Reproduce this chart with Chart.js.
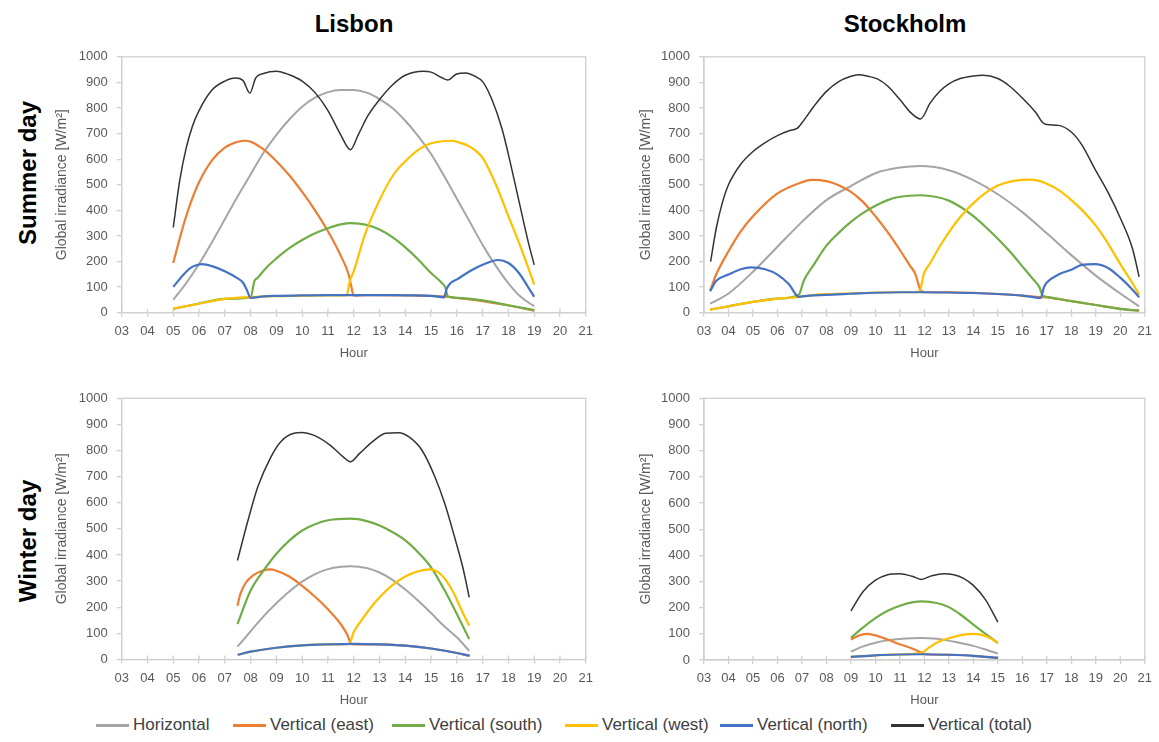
<!DOCTYPE html>
<html>
<head>
<meta charset="utf-8">
<script src="https://cdn.jsdelivr.net/npm/chart.js@4.4.1/dist/chart.umd.min.js"></script>
<style>
  html, body { margin: 0; padding: 0; background: #ffffff; }
  body { width: 1159px; height: 742px; position: relative; overflow: hidden; font-family: "Liberation Sans", Arial, sans-serif; }
  .pan { position: absolute; }
  .title { position: absolute; font-weight: bold; font-size: 24px; color: #000; transform: translate(-50%, -50%); white-space: nowrap; line-height: 1; }
  .row { position: absolute; font-weight: bold; font-size: 24px; color: #000; transform: translate(-50%, -50%) rotate(-90deg); white-space: nowrap; line-height: 1; }
  .leg { position: absolute; top: 725px; transform: translateY(-50%); display: flex; align-items: center; white-space: nowrap; font-size: 17px; color: #404040; }
  .leg i { display: inline-block; width: 33px; height: 3px; margin-right: 4px; }
</style>
</head>
<body>
<div class="title" style="left:354px;top:24px;">Lisbon</div>
<div class="title" style="left:905px;top:24px;">Stockholm</div>
<div class="row" style="left:28px;top:173px;">Summer day</div>
<div class="row" style="left:28px;top:541px;">Winter day</div>

<div class="pan" style="left:0px;top:40px;"><canvas id="lisSum" width="600" height="330"></canvas></div>
<div class="pan" style="left:590px;top:40px;"><canvas id="stoSum" width="569" height="330"></canvas></div>
<div class="pan" style="left:0px;top:380px;"><canvas id="lisWin" width="600" height="330"></canvas></div>
<div class="pan" style="left:590px;top:380px;"><canvas id="stoWin" width="569" height="330"></canvas></div>

<div id="legend"></div>

<script>
// ---------- series names / tick labels ----------
const SERIES_NAMES = ["Horizontal", "Vertical (east)", "Vertical (south)", "Vertical (west)", "Vertical (north)", "Vertical (total)"];
const HOUR_TICKS = [3,4,5,6,7,8,9,10,11,12,13,14,15,16,17,18,19,20,21];
const Y_TICKS = [0,100,200,300,400,500,600,700,800,900,1000];

// ---------- Lisbon, summer day ----------
const lisSumHorX = [5,5.5,6,6.5,7,7.5,8,8.5,9,9.5,10,10.5,11,11.5,12,12.5,13,13.5,14,14.5,15,15.5,16,16.5,17,17.5,18,18.5,19];
const lisSumHorY = [50,115,190,275,365,455,540,625,695,755,805,840,862,870,870,860,835,800,750,690,620,535,445,355,265,185,115,60,25];
const lisSumEastX = [5,5.25,5.5,5.75,6,6.5,7,7.5,7.8,8,8.5,9,9.5,10,10.5,11,11.5,11.8,11.9,12,12.5,13,14,15,15.7,16,17,18,19];
const lisSumEastY = [194,290,377,450,510,595,645,668,672,668,638,592,537,472,400,318,222,150,105,67,69,69,68,66,62,58,45,28,8];
const lisSumSouthX = [5,6,7,8,8.15,8.28,8.6,9,9.5,10,10.5,11,11.5,11.9,12.5,13,13.5,14,14.5,15,15.4,15.55,15.65,16,17,18,19];
const lisSumSouthY = [15,36,54,61,124,137,175,212,252,284,310,330,345,350,343,325,295,255,208,155,118,99,63,58,48,29,10];
const lisSumWestX = [5,6,7,8,9,10,11,11.72,11.85,12,12.42,13,13.56,14,14.6,15,15.5,15.85,16,16.5,17,17.5,18,18.4,18.77,19];
const lisSumWestY = [16,35,54,61,65,67,68,68,124,162,301,440,542,592,643,662,671,672,668,649,605,504,377,276,175,110];
const lisSumNorthX = [5,5.5,5.75,6,6.12,6.5,7,7.5,7.7,7.85,8,8.5,9,10,11,12,13,14,15,15.4,15.5,15.6,15.74,16,16.5,17,17.6,18,18.4,18.77,19];
const lisSumNorthY = [101,160,180,188,190,182,162,134,118,90,58,64,66,68,69,69,69,68,66,61,60,92,114,130,162,187,206,194,156,99,62];
const lisSumTotX = [5,5.25,5.5,5.75,6,6.5,7,7.4,7.7,7.97,8.2,8.5,9,9.5,10,10.5,11,11.5,11.87,12.17,12.55,13,13.5,14,14.7,15,15.4,15.65,15.97,16.35,16.7,17,17.36,17.75,18,18.4,18.77,19];
const lisSumTotY = [333,516,643,731,790,870,905,917,908,858,918,935,944,930,905,860,790,694,637,694,770,833,890,928,944,940,919,909,932,937,924,903,833,719,618,440,276,187];

// ---------- Stockholm, summer day ----------
const stoSumHorX = [3.25,4,5,6,7,8,9,10,11,11.84,13,14,15,16,17,18,19,20,20.77];
const stoSumHorY = [35,75,160,258,355,440,495,545,567,573,557,518,463,393,310,225,145,75,25];
const stoSumEastX = [3.25,3.5,4,4.5,5,6,7,7.4,8,8.5,9,9.5,10,10.5,11,11.4,11.64,11.82,12,13,14,15,16,16.75,17,18,19,20,20.77];
const stoSumEastY = [86,150,240,318,377,466,510,519,514,498,472,432,377,315,245,185,149,92,80,80,78,73,67,61,60,45,30,15,8];
const stoSumSouthX = [3.25,4,5,6,6.87,7.07,7.5,8,8.5,9,9.5,10,10.5,11,11.84,12.5,13,13.5,14,14.5,15,15.5,16,16.4,16.7,16.83,17,18,19,20,20.77];
const stoSumSouthY = [12,25,42,55,70,124,190,262,312,355,390,418,440,453,459,452,438,412,377,335,289,238,181,135,99,67,62,45,30,15,8];
const stoSumWestX = [3.25,4,5,6,6.9,7.5,8,9,10,11,11.7,11.84,11.97,12.24,12.6,13,13.5,14,14.5,15,15.5,16,16.28,16.6,17,17.5,18,18.5,19,19.5,20,20.5,20.77];
const stoSumWestY = [12,25,42,55,62,70,73,76,79,80,80,92,149,194,255,314,378,428,468,497,512,519,520,517,504,478,440,395,340,270,190,115,70];
const stoSumNorthX = [3.25,3.5,4,4.5,4.92,5.5,6,6.47,6.87,7,8,9,10,11,12,13,14,15,16,16.75,16.88,17,17.48,18,18.43,18.97,19.5,20,20.5,20.77];
const stoSumNorthY = [84,125,149,170,177,170,149,111,62,64,70,74,78,80,80,79,77,73,67,58,99,118,149,168,187,190,175,137,90,60];
const stoSumTotX = [3.27,3.5,3.75,4,4.5,5,5.5,6,6.5,6.8,7,7.5,8,8.5,9,9.3,9.7,10.1,10.5,11,11.44,11.84,12.24,12.63,13,13.46,14,14.4,15,15.47,16,16.55,16.82,17,17.48,18,18.43,19,19.5,20,20.5,20.77];
const stoSumTotY = [200,330,430,500,580,630,665,692,712,720,742,808,865,903,924,930,924,913,886,833,782,757,820,865,894,915,925,928,915,886,839,782,744,735,732,706,656,555,470,370,250,140];

// ---------- Lisbon, winter day ----------
const lisWinHorX = [7.49,8,8.5,9,9.5,10,10.5,11,11.5,11.9,12.5,13,13.5,14,14.5,15,15.5,16,16.48];
const lisWinHorY = [49,108,165,215,260,298,327,346,355,357,350,333,305,268,225,178,128,85,33];
const lisWinEastX = [7.49,7.6,7.8,8.1,8.4,8.75,9,9.5,10,10.5,11,11.5,11.75,11.9,12,13,14,15,16,16.48];
const lisWinEastY = [206,250,292,322,338,345,340,318,282,240,192,135,95,60,58,58,53,42,25,14];
const lisWinSouthX = [7.49,8,8.5,9,9.5,10,10.5,11,11.87,12.5,13,13.5,14,14.5,15,15.53,16,16.48];
const lisWinSouthY = [136,264,340,405,455,494,518,533,539,530,513,488,456,410,353,264,174,78];
const lisWinWestX = [7.49,8,9,10,11,11.83,12,12.3,12.5,13,13.5,14,14.5,14.95,15.3,15.6,15.9,16.2,16.48];
const lisWinWestY = [18,30,45,54,58,60,105,150,178,238,285,318,338,345,333,300,250,185,129];
const lisWinNorthX = [7.5,8,9,10,11,12,13,14,15,16,16.5];
const lisWinNorthY = [18,30,45,54,58,60,58,53,42,25,14];
const lisWinTotX = [7.49,7.9,8.28,8.79,9.17,9.68,10,10.44,11.08,11.59,11.87,12.23,12.73,13.24,13.75,14.13,14.64,15.15,15.53,15.91,16.23,16.48];
const lisWinTotY = [379,533,661,776,834,866,869,859,821,776,757,789,834,866,868,853,802,699,597,469,353,238];

// ---------- Stockholm, winter day ----------
const stoWinHorX = [9,9.5,10,10.5,11,11.5,11.9,12.5,13,13.5,14,14.5,15];
const stoWinHorY = [32,52,66,75,80,83,84,81,74,64,54,40,24];
const stoWinEastX = [9,9.3,9.65,10,10.5,11,11.5,11.87,12,13,14,15];
const stoWinEastY = [78,93,100,94,78,60,44,28,22,20,16,8];
const stoWinSouthX = [9,9.5,10,10.5,11,11.5,11.9,12.5,13,13.5,14,14.5,15];
const stoWinSouthY = [85,125,160,188,207,220,224,218,202,172,135,100,65];
const stoWinWestX = [9,10,11,11.87,12.2,12.5,13,13.5,14,14.3,14.6,15];
const stoWinWestY = [12,18,21,27,48,66,83,95,100,97,88,65];
const stoWinNorthX = [9,10,11,12,13,14,15];
const stoWinNorthY = [12,18,21,22,20,16,8];
const stoWinTotX = [9,9.5,10,10.5,11,11.5,11.87,12.3,12.8,13.2,13.6,14,14.5,15];
const stoWinTotY = [188,262,305,326,330,320,308,322,330,326,312,285,230,145];

// ---------- styling ----------
const COLORS = ["#A5A5A5", "#ED7D31", "#70AD47", "#FFC000", "#4472C4", "#333333"];
const WIDTHS = [2, 2.2, 2.2, 2.2, 2.2, 1.5];
const AXIS_COLOR = "#d0d0d0";
const TEXT_COLOR = "#595959";
const FONT = "'Liberation Sans', Arial, sans-serif";
Chart.defaults.font.family = FONT;

const framePlugin = {
  id: 'frame',
  beforeDatasetsDraw(chart) {
    const { ctx, chartArea: a, scales: { x } } = chart;
    ctx.save();
    ctx.strokeStyle = AXIS_COLOR;
    ctx.lineWidth = 1.3;
    ctx.strokeRect(a.left, a.top, a.right - a.left, a.bottom - a.top);
    ctx.beginPath();
    x.ticks.forEach((t, i) => {
      const px = x.getPixelForTick(i);
      ctx.moveTo(px, a.bottom - 4);
      ctx.lineTo(px, a.bottom);
    });
    ctx.stroke();
    ctx.restore();
  }
};

function makeChart(id, xs, ys, L) {
  const datasets = xs.map((xArr, i) => ({
    label: SERIES_NAMES[i],
    data: xArr.map((xv, j) => ({ x: xv, y: ys[i][j] })),
    borderColor: COLORS[i],
    borderWidth: WIDTHS[i],
    pointRadius: 0,
    fill: false,
    cubicInterpolationMode: 'monotone',
    order: 6 - i
  }));
  new Chart(document.getElementById(id), {
    type: 'line',
    data: { datasets },
    options: {
      responsive: false,
      animation: false,
      events: [],
      layout: { autoPadding: false, padding: { left: 0, top: L.pt, right: L.pr, bottom: 0 } },
      plugins: { legend: { display: false }, tooltip: { enabled: false } },
      scales: {
        x: {
          type: 'linear', min: HOUR_TICKS[0], max: HOUR_TICKS[HOUR_TICKS.length - 1],
          afterBuildTicks(s) { s.ticks = HOUR_TICKS.map(v => ({ value: v })); },
          ticks: { autoSkip: false, maxRotation: 0, padding: 7, color: TEXT_COLOR, font: { size: 13 },
                   callback: v => String(v).padStart(2, '0') },
          grid: { display: true, drawOnChartArea: false, drawTicks: true, tickLength: 4, color: AXIS_COLOR, lineWidth: 1.3 },
          border: { display: true, color: AXIS_COLOR, width: 1.3 },
          title: { display: true, text: 'Hour', color: TEXT_COLOR, font: { size: 13, lineHeight: 1.2 }, padding: { top: 0, bottom: L.xtb } },
          afterFit(s) { s.height = L.xh; }
        },
        y: {
          type: 'linear', min: Y_TICKS[0], max: Y_TICKS[Y_TICKS.length - 1],
          afterBuildTicks(s) { s.ticks = Y_TICKS.map(v => ({ value: v })); },
          ticks: { padding: 9, color: TEXT_COLOR, font: { size: 13 }, callback: v => String(v) },
          grid: { display: true, drawOnChartArea: false, drawTicks: true, tickLength: 5, color: AXIS_COLOR, lineWidth: 1.3 },
          border: { display: true, color: AXIS_COLOR, width: 1.3 },
          title: { display: true, text: 'Global irradiance [W/m²]', color: TEXT_COLOR, font: { size: 14, lineHeight: 1.2 }, padding: { top: L.ytp, bottom: 0 } },
          afterFit(s) { s.width = L.yw; }
        }
      }
    },
    plugins: [framePlugin]
  });
}

makeChart('lisSum',
  [lisSumHorX, lisSumEastX, lisSumSouthX, lisSumWestX, lisSumNorthX, lisSumTotX],
  [lisSumHorY, lisSumEastY, lisSumSouthY, lisSumWestY, lisSumNorthY, lisSumTotY],
  { pt: 9.3, pr: 7, yw: 121.7, xh: 57.3, xtb: 9.2, ytp: 53.6 });
makeChart('stoSum',
  [stoSumHorX, stoSumEastX, stoSumSouthX, stoSumWestX, stoSumNorthX, stoSumTotX],
  [stoSumHorY, stoSumEastY, stoSumSouthY, stoSumWestY, stoSumNorthY, stoSumTotY],
  { pt: 9.3, pr: 9, yw: 114, xh: 57.3, xtb: 9.2, ytp: 47.6 });
makeChart('lisWin',
  [lisWinHorX, lisWinEastX, lisWinSouthX, lisWinWestX, lisWinNorthX, lisWinTotX],
  [lisWinHorY, lisWinEastY, lisWinSouthY, lisWinWestY, lisWinNorthY, lisWinTotY],
  { pt: 18.3, pr: 7, yw: 121.7, xh: 50.5, xtb: 2.2, ytp: 53.6 });
makeChart('stoWin',
  [stoWinHorX, stoWinEastX, stoWinSouthX, stoWinWestX, stoWinNorthX, stoWinTotX],
  [stoWinHorY, stoWinEastY, stoWinSouthY, stoWinWestY, stoWinNorthY, stoWinTotY],
  { pt: 18.3, pr: 9, yw: 114, xh: 50, xtb: 2.2, ytp: 47.6 });

// ---------- legend ----------
const LEGEND_LEFT = [96, 233, 392, 565, 720, 891];
const legend = document.getElementById('legend');
SERIES_NAMES.forEach((name, i) => {
  const d = document.createElement('div');
  d.className = 'leg';
  d.style.left = LEGEND_LEFT[i] + 'px';
  const sw = document.createElement('i');
  sw.style.background = COLORS[i];
  d.appendChild(sw);
  d.appendChild(document.createTextNode(name));
  legend.appendChild(d);
});
</script>
</body>
</html>
